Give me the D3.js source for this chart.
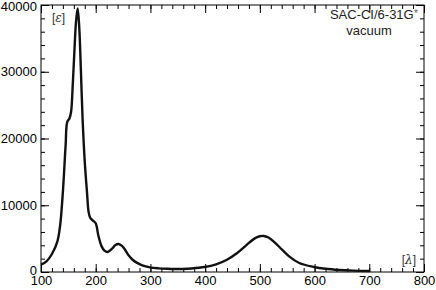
<!DOCTYPE html>
<html lang="en">
<head>
<meta charset="utf-8">
<script src="https://cdn.jsdelivr.net/npm/d3@7"></script>
<style>
  body { margin: 0; background: #fff; }
  svg text { font-family: "Liberation Sans", Arial, sans-serif; }
</style>
</head>
<body>
<div id="chart"></div>
<script>
  // spectrum: wavelength and epsilon
  let wavelength = [100, 110, 120, 130, 135, 140, 145, 148, 152, 155, 158, 161, 164, 167, 170, 173, 176, 180, 184, 187, 190, 195, 200, 205, 211, 216, 222, 230, 236, 242, 248, 253, 260, 268, 275, 285, 299, 315, 331, 345, 359, 375, 399, 420, 439, 458, 475, 490, 500, 507, 515, 525, 541, 554, 572, 599, 620, 645, 670, 700]
  let epsilon = [1100, 1600, 2700, 4600, 7000, 12000, 19000, 22500, 23000, 24000, 28000, 33000, 37500, 39500, 36500, 30000, 23000, 16500, 12000, 9000, 8100, 7700, 7300, 5400, 3800, 3200, 3000, 3500, 4050, 4200, 3900, 3400, 2500, 1800, 1400, 1000, 700, 550, 480, 450, 460, 530, 750, 1150, 1800, 2800, 4000, 5000, 5350, 5400, 5200, 4600, 3300, 2300, 1350, 750, 480, 300, 200, 150]

  let xTicks = [100, 200, 300, 400, 500, 600, 700, 800]
  let yTicks = [0, 10000, 20000, 30000, 40000]

  let w = 436
  let h = 290
  let padLeft = 41, padRight = 424, padTop = 5, padBottom = 272

  let svg = d3.select('#chart')
              .append('svg')
              .attr('width', w)
              .attr('height', h)

  let scaleX = d3.scaleLinear().domain([100, 800]).range([padLeft, padRight])
  let scaleY = d3.scaleLinear().domain([0, 40000]).range([padBottom, padTop])

  // minor ticks first, then major ticks with labels
  function drawAxis(axis, tx, ty, withLabels) {
     let g = svg.append('g')
                .attr('transform', 'translate(' + tx + ',' + ty + ')')
                .call(axis)
     g.select('.domain').remove()
     g.selectAll('line').attr('stroke', '#000').attr('stroke-width', 1)
     if (!withLabels) g.selectAll('text').remove()
     g.selectAll('text').attr('font-size', 13).attr('fill', '#000')
     return g
  }

  let minorX = d3.range(100, 801, 20)
  let minorY = d3.range(0, 40001, 2000)

  drawAxis(d3.axisBottom(scaleX).tickValues(minorX).tickSize(-4), 0, padBottom, false)
  drawAxis(d3.axisTop(scaleX).tickValues(minorX).tickSize(-4), 0, padTop, false)
  drawAxis(d3.axisLeft(scaleY).tickValues(minorY).tickSize(-4), padLeft, 0, false)
  drawAxis(d3.axisRight(scaleY).tickValues(minorY).tickSize(-4), padRight, 0, false)

  drawAxis(d3.axisBottom(scaleX).tickValues(xTicks).tickSize(-8).tickPadding(4).tickFormat(d3.format('d')), 0, padBottom, true)
  drawAxis(d3.axisTop(scaleX).tickValues(xTicks).tickSize(-8), 0, padTop, false)
  let yAx = drawAxis(d3.axisLeft(scaleY).tickValues(yTicks).tickSize(-8).tickPadding(4).tickFormat(d3.format('d')), padLeft, 0, true)
  drawAxis(d3.axisRight(scaleY).tickValues(yTicks).tickSize(-8), padRight, 0, false)

  // keep the end labels clear of the edge and of the x labels
  yAx.selectAll('text').filter(function(d) { return d === 40000 }).attr('dy', '0.45em')
  yAx.selectAll('text').filter(function(d) { return d === 0 }).attr('dy', '0.2em')

  // frame
  svg.append('rect')
     .attr('x', padLeft)
     .attr('y', padTop)
     .attr('width', padRight - padLeft)
     .attr('height', padBottom - padTop)
     .attr('fill', 'none')
     .attr('stroke', '#000')
     .attr('stroke-width', 1)

  let line = d3.line()
               .x(function(d, i) { return scaleX(wavelength[i]) })
               .y(function(d) { return scaleY(d) })
               .curve(d3.curveCatmullRom)

  svg.append('path')
     .datum(epsilon)
     .attr('d', line)
     .attr('fill', 'none')
     .attr('stroke', '#111')
     .attr('stroke-width', 2.4)
     .attr('stroke-linejoin', 'round')

  // labels
  let eps = svg.append('text').attr('x', 52).attr('y', 22).attr('font-size', 12).attr('fill', '#333')
  eps.append('tspan').text('[')
  eps.append('tspan').attr('font-style', 'italic').attr('font-family', 'DejaVu Serif, serif').text('ε')
  eps.append('tspan').text(']')

  let lam = svg.append('text').attr('x', 416).attr('y', 264).attr('text-anchor', 'end').attr('font-size', 12).attr('fill', '#333')
  lam.append('tspan').text('[')
  lam.append('tspan').attr('font-style', 'italic').attr('font-family', 'DejaVu Serif, serif').text('λ')
  lam.append('tspan').text(']')

  let t = svg.append('text').attr('x', 418).attr('y', 19).attr('text-anchor', 'end').attr('font-size', 13).attr('fill', '#222')
  t.append('tspan').text('SAC-CI/6-31G')
  t.append('tspan').attr('font-size', 11).attr('fill', '#666').attr('dy', -2).text('*')

  svg.append('text')
     .attr('x', 369)
     .attr('y', 35)
     .attr('text-anchor', 'middle')
     .attr('font-size', 13)
     .attr('fill', '#222')
     .text('vacuum')
</script>
</body>
</html>
